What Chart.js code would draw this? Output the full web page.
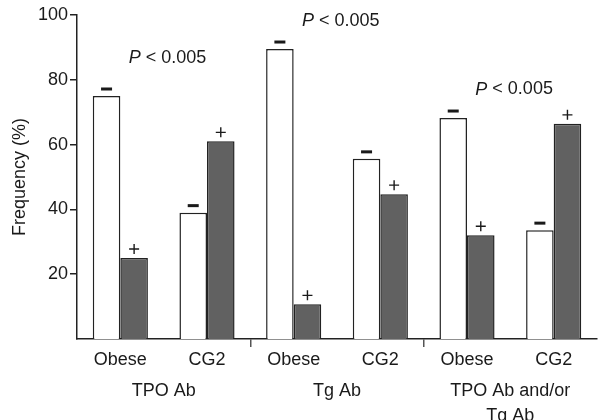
<!DOCTYPE html>
<html>
<head>
<meta charset="utf-8">
<script src="https://cdn.jsdelivr.net/npm/chart.js@4"></script>
<style>
  html, body { margin: 0; padding: 0; background: #fff; }
</style>
</head>
<body>
<canvas id="myChart" width="603" height="420"></canvas>
<script>
const subgroups = ['Obese', 'CG2', 'Obese', 'CG2', 'Obese', 'CG2'];
const groups = ['TPO Ab', 'Tg Ab', ['TPO Ab and/or', 'Tg Ab']];
const negative = [75, 39, 89.5, 55.6, 68.2, 33.6];
const positive = [25, 61, 10.7, 44.7, 32, 66.4];
const yTicks = [20, 40, 60, 80, 100];
const pValues = ['< 0.005', '< 0.005', '< 0.005'];

const FONT = 'Liberation Sans, Arial, Helvetica, sans-serif';
const ink = '#1a1a1a';

const ctx = document.getElementById('myChart').getContext('2d');

const data = {
  labels: subgroups,
  datasets: [
    {
      label: '−',
      data: negative,
      backgroundColor: '#ffffff',
      borderColor: '#222',
      borderWidth: 1.5
    },
    {
      label: '+',
      data: positive,
      backgroundColor: '#616161',
      borderColor: '#222',
      borderWidth: 1.5
    }
  ]
};

// where the P annotations sit (y in % units)
const pAnnot = [86.7, 98, 77];

const marks = {
  id: 'marks',
  afterDatasetsDraw(chart) {
    const {ctx, scales: {x, y}} = chart;
    ctx.save();
    ctx.fillStyle = ink;
    ctx.strokeStyle = ink;

    // sign above each bar
    chart.data.datasets.forEach((dataset, di) => {
      chart.getDatasetMeta(di).data.forEach((bar) => {
        if (dataset.label === '+') {
          const cy = bar.y - 9;
          ctx.lineWidth = 1.4;
          ctx.beginPath();
          ctx.moveTo(bar.x - 5, cy);
          ctx.lineTo(bar.x + 5, cy);
          ctx.moveTo(bar.x, cy - 5);
          ctx.lineTo(bar.x, cy + 5);
          ctx.stroke();
        } else {
          ctx.fillRect(bar.x - 5.5, bar.y - 8.5, 11, 3);
        }
      });
    });

    // P values
    ctx.textBaseline = 'middle';
    ctx.textAlign = 'left';
    pValues.forEach((txt, i) => {
      const mid = (x.getPixelForValue(2 * i) + x.getPixelForValue(2 * i + 1)) / 2;
      const left = mid - 35;
      const py = y.getPixelForValue(pAnnot[i]);
      ctx.font = 'italic 18px ' + FONT;
      ctx.fillText('P', left, py);
      const w = ctx.measureText('P ').width;
      ctx.font = '18px ' + FONT;
      ctx.fillText(txt, left + w, py);
    });
    ctx.restore();
  }
};

const config = {
  type: 'bar',
  data: data,
  options: {
    responsive: false,
    animation: false,
    layout: {
      padding: {top: 15, right: 6, bottom: 0, left: 0}
    },
    categoryPercentage: 0.636,
    barPercentage: 1.0,
    plugins: {
      legend: {display: false},
      tooltip: {enabled: false}
    },
    scales: {
      x: {
        weight: 0,
        grid: {
          drawOnChartArea: false,
          tickLength: 8,
          lineWidth: 1.5,
          color: (c) => (c.index === 2 || c.index === 4) ? '#555' : 'rgba(0,0,0,0)'
        },
        border: {color: '#222', width: 1.5},
        ticks: {
          color: ink,
          padding: 2,
          font: {family: FONT, size: 18}
        },
        afterFit(scale) { scale.height = 33; }
      },
      x2: {
        type: 'category',
        position: 'bottom',
        weight: 1,
        labels: groups,
        offset: true,
        grid: {display: false, drawTicks: false},
        border: {display: false},
        ticks: {
          color: ink,
          padding: 6,
          font: {family: FONT, size: 18, lineHeight: 1.4}
        },
        afterFit(scale) { scale.height = 48; }
      },
      y: {
        min: 0,
        max: 100,
        afterBuildTicks(scale) {
          scale.ticks = yTicks.map(v => ({value: v}));
        },
        grid: {
          drawOnChartArea: false,
          tickLength: 7,
          lineWidth: 1.5,
          color: '#222'
        },
        border: {color: '#222', width: 1.5},
        ticks: {
          color: ink,
          padding: 2,
          font: {family: FONT, size: 18}
        },
        title: {
          display: true,
          text: 'Frequency (%)',
          color: ink,
          padding: {top: 9, bottom: 0},
          font: {family: FONT, size: 18}
        },
        afterFit(scale) { scale.width = 77; }
      }
    }
  },
  plugins: [marks]
};

const myChart = new Chart(ctx, config);
</script>
</body>
</html>
